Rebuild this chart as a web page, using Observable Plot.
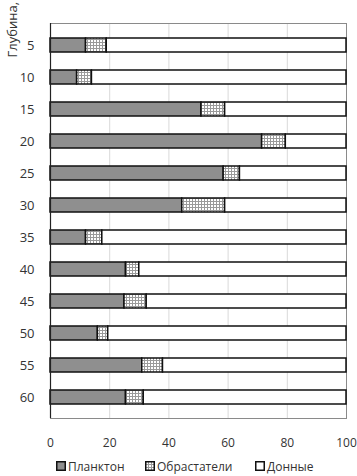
<!DOCTYPE html>
<html>
<head>
<meta charset="utf-8">
<script src="https://cdn.jsdelivr.net/npm/d3@7"></script>
<script src="https://cdn.jsdelivr.net/npm/@observablehq/plot@0.6"></script>
<style>
  body { margin: 0; background: #fff; font-family: "Open Sans", sans-serif; }
  #chart { position: relative; width: 357px; height: 476px; overflow: hidden; }
  #legend { position: absolute; top: 457px; left: 0; width: 357px; height: 18px; font-size: 12px; color: #333; }
  .item { position: absolute; top: 0; display: flex; align-items: center; height: 18px; }
  .item svg { margin-right: 2px; }
</style>
</head>
<body>
<div id="chart"></div>
<script>
const depths = [5, 10, 15, 20, 25, 30, 35, 40, 45, 50, 55, 60];
const plankton = [12, 9, 51, 71.5, 58.5, 44.5, 12, 25.5, 25, 16, 31, 25.5];
const fouling  = [7, 5, 8, 8, 5.5, 14.5, 5.5, 4.5, 7.5, 3.5, 7, 6];
const benthic  = [81, 86, 41, 20.5, 36, 41, 82.5, 70, 67.5, 80.5, 62, 68.5];
const series = ["Планктон", "Обрастатели", "Донные"];
const xTicks = [0, 20, 40, 60, 80, 100];
const yLabel = "Глубина, м";

const rows = [];
depths.forEach((d, i) => {
  rows.push({depth: d, type: series[0], value: plankton[i]});
  rows.push({depth: d, type: series[1], value: fouling[i]});
  rows.push({depth: d, type: series[2], value: benthic[i]});
});

const fills = ["#8f8f8f", "url(#hatch)", "#ffffff"];

const plot = Plot.plot({
  width: 357,
  height: 457,
  marginTop: 23,
  marginBottom: 39,
  marginLeft: 50,
  marginRight: 11,
  style: {fontFamily: "'Open Sans', sans-serif", fontSize: "13px", color: "#333", background: "white"},
  x: {domain: [0, 100], label: null},
  y: {domain: depths, paddingInner: 0.575, paddingOuter: 0.2875, tickSize: 0, tickPadding: 16, label: null},
  color: {domain: series, range: fills},
  marks: [
    Plot.gridX(xTicks.slice(1, -1), {stroke: "#d9d9d9", strokeOpacity: 1, strokeWidth: 1}),
    Plot.frame({stroke: "#8a8a8a", strokeWidth: 1}),
    Plot.barX(rows, {
      x: "value", y: "depth", fill: "type",
      order: series,
      stroke: "#111", strokeWidth: 1.5
    }),
    Plot.ruleX([0], {stroke: "#222", strokeWidth: 1.2}),
    Plot.axisX(xTicks, {tickSize: 0, tickPadding: 20, fontSize: 12, label: null}),
    Plot.text([yLabel], {
      frameAnchor: "top-left", dx: -43, dy: 34, rotate: -90,
      textAnchor: "start", fontSize: 13, fill: "#333"
    })
  ]
});

// pattern for the crosshatch series
const defs = d3.select(plot).insert("defs", ":first-child");
const pat = defs.append("pattern")
  .attr("id", "hatch").attr("patternUnits", "userSpaceOnUse")
  .attr("width", 3).attr("height", 3);
pat.append("rect").attr("width", 3).attr("height", 3).attr("fill", "#fff");
pat.append("rect").attr("width", 3).attr("height", 1).attr("fill", "#9a9a9a");
pat.append("rect").attr("width", 1).attr("height", 3).attr("fill", "#9a9a9a");

const chart = document.getElementById("chart");
chart.appendChild(plot);

// legend
const legend = document.createElement("div");
legend.id = "legend";
const lefts = [56, 145, 255];
series.forEach((s, i) => {
  const item = document.createElement("div");
  item.className = "item";
  item.style.left = lefts[i] + "px";
  item.innerHTML = `<svg width="10" height="10"><rect x="0.75" y="0.75" width="8.5" height="8.5" fill="${fills[i]}" stroke="#111" stroke-width="1.5"/></svg><span>${s}</span>`;
  legend.appendChild(item);
});
chart.appendChild(legend);
</script>
</body>
</html>
